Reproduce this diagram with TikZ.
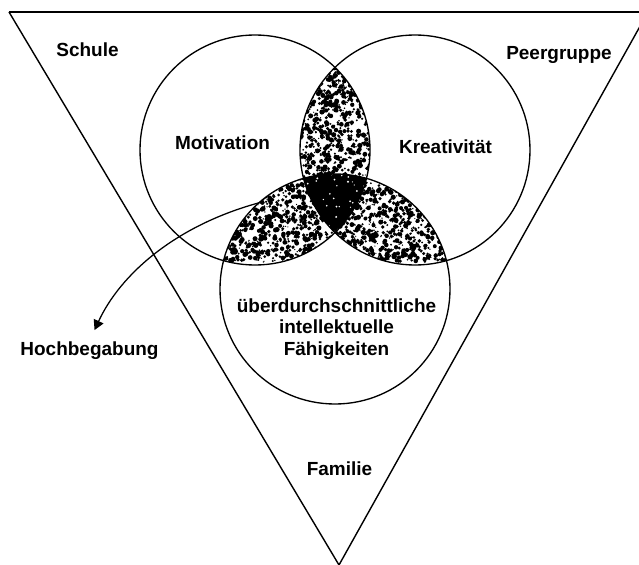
\documentclass[tikz,border=0pt]{standalone}
\usepackage{fontspec}
\setmainfont{Liberation Sans}
\usepackage{tikz}
\usetikzlibrary{arrows.meta}

% random speckles: x0, y0, width, height, count, max radius
\newcommand{\specks}[6]{%
  \foreach \k in {1,...,#5}{%
    \pgfmathsetmacro{\sx}{#1+#3*rnd}%
    \pgfmathsetmacro{\sy}{#2+#4*rnd}%
    \fill (\sx,\sy) circle[radius={0.6+#6*rnd}];
  }}

\begin{document}
\begin{tikzpicture}[
    x=0.025cm, y=-0.025cm,
    ring/.style={line width=0.95pt},
    tri/.style={line width=1pt, line join=miter},
    topedge/.style={line width=1.8pt},
    lbl/.style={
        font=\fontsize{13.5}{15.3}\selectfont\bfseries,
        inner sep=0pt
    },
    arr/.style={-{Triangle[length=7pt,width=7.5pt]}, line width=0.9pt}
]
\useasboundingbox (0,0) rectangle (639,565);
\pgfmathsetseed{20}

\coordinate (mot) at (255,150);
\coordinate (kre) at (415,150);
\coordinate (fae) at (335,289);

\coordinate (tl) at (9,12);
\coordinate (tr) at (648,12);
\coordinate (ap) at (339,565);

% stippled overlaps
\begin{scope}
\clip (mot) circle[radius=115];
\clip (kre) circle[radius=115];
\specks{298}{65}{74}{170}{1100}{2.0}
\end{scope}
\begin{scope}
\clip (mot) circle[radius=115];
\clip (fae) circle[radius=115];
\specks{222}{176}{146}{86}{1100}{2.0}
\end{scope}
\begin{scope}
\clip (kre) circle[radius=115];
\clip (fae) circle[radius=115];
\specks{302}{176}{146}{86}{1100}{2.0}
\end{scope}

% dark core
\begin{scope}
\clip (mot) circle[radius=115];
\clip (kre) circle[radius=115];
\clip (fae) circle[radius=115];
\fill (290,170) rectangle (380,240);
\begin{scope}[white]
\specks{300}{172}{70}{60}{45}{0.5}
\end{scope}
\end{scope}

\draw[ring] (mot) circle[radius=115];
\draw[ring] (kre) circle[radius=115];
\draw[ring] (fae) circle[radius=115];

\draw[tri] (tl) -- (ap) -- (tr);
\draw[topedge] (tl) -- (tr);

\node[lbl, anchor=base] (schule) at (87.5,57) {Schule};
\node[lbl, anchor=base] (peer) at (559,60) {Peergruppe};
\node[lbl, anchor=base] (motiv) at (222.5,149) {Motivation};
\node[lbl, anchor=base] (kreat) at (445.5,153) {Kreativität};
\node[lbl, anchor=north, align=center] (faehig) at (336.5,298)
{überdurchschnittliche\\intellektuelle\\Fähigkeiten};
\node[lbl, anchor=base] (hoch) at (89.5,355) {Hochbegabung};
\node[lbl, anchor=base] (familie) at (339.5,475) {Familie};

\coordinate (core) at (262,202);
\draw[arr, shorten >=0.3cm] (core) .. controls (175,225) and (120,275) .. (hoch.north);

\end{tikzpicture}
\end{document}
